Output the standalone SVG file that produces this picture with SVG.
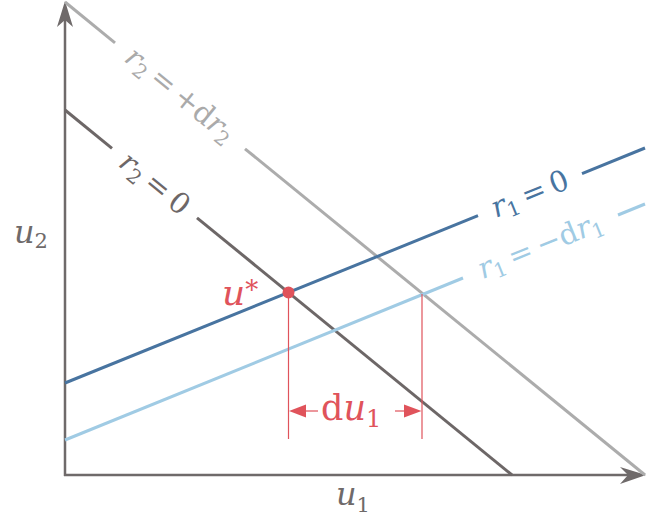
<svg xmlns="http://www.w3.org/2000/svg" width="647" height="526" viewBox="0 0 647 526" font-family="DejaVu Serif, Liberation Serif, serif">
<style>
.it{font-style:italic}
.axis{stroke:#6f6a6a;stroke-width:2.5;fill:none}
.ln{stroke-width:3;fill:none;stroke-linecap:butt}
.dark{stroke:#6d6767}
.gray{stroke:#acacac}
.blue{stroke:#4874a0}
.lblue{stroke:#a0cbe4}
.red{stroke:#e0535b;stroke-width:1.2;fill:none}
.lbl{font-size:29px}
.sub{font-size:20px}
</style>
<rect width="647" height="526" fill="#ffffff"/>
<g id="axes">
<line class="axis" x1="65" y1="476" x2="65" y2="14"/>
<line class="axis" x1="64" y1="475" x2="632" y2="475"/>
<path d="M65,1 L73,27 L65,20 L57,27 Z" fill="#6f6a6a"/>
<path d="M646,475 L620,467 L628,475 L620,484 Z" fill="#6f6a6a"/>
<text x="14" y="243" font-size="32" fill="#6f6a6a"><tspan class="it">u</tspan><tspan font-size="21" dy="5" dx="0">2</tspan></text>
<text x="336" y="505" font-size="32" fill="#6f6a6a"><tspan class="it">u</tspan><tspan font-size="21" dy="7" dx="0">1</tspan></text>
</g>
<g id="connectors">
<g id="r2-zero">
<line class="ln dark" x1="65" y1="110" x2="112" y2="148.4"/>
<line class="ln dark" x1="197" y1="217.8" x2="512" y2="475"/>
</g>
<g id="r2-plus">
<line class="ln gray" x1="65" y1="2" x2="115" y2="42.8"/>
<line class="ln gray" x1="245" y1="148.8" x2="645" y2="475"/>
</g>
<g id="r1-zero">
<line class="ln blue" x1="65" y1="383" x2="478" y2="215.7"/>
<line class="ln blue" x1="582" y1="173.6" x2="645" y2="148"/>
</g>
<g id="r1-minus">
<line class="ln lblue" x1="65" y1="440" x2="463" y2="278"/>
<line class="ln lblue" x1="618" y1="215" x2="645" y2="204"/>
</g>
<g id="du1-dimension">
<line class="red" x1="288.5" y1="293" x2="288.5" y2="439"/>
<line class="red" x1="422" y1="294" x2="422" y2="439"/>
<line class="red" x1="303" y1="411" x2="318" y2="411"/>
<line class="red" x1="395" y1="411" x2="405" y2="411"/>
<path d="M289,411 L306,404.5 L306,417.5 Z" fill="#e0535b"/>
<path d="M421.5,411 L404,404.5 L404,417.5 Z" fill="#e0535b"/>
</g>
</g>
<g id="label-r2-plus" transform="translate(180,95) rotate(39.2)">
<text class="lbl" x="0" y="9" text-anchor="middle" fill="#aaaaaa"><tspan class="it">r</tspan><tspan class="sub" dy="5" dx="0">2</tspan><tspan dy="-5" dx="6">=</tspan><tspan dx="6">+d</tspan><tspan class="it">r</tspan><tspan class="sub" dy="5" dx="0">2</tspan></text>
</g>
<g id="label-r2-zero" transform="translate(154.5,184) rotate(39.2)">
<text class="lbl" x="0" y="9" text-anchor="middle" fill="#6d6767"><tspan class="it">r</tspan><tspan class="sub" dy="5" dx="0">2</tspan><tspan dy="-5" dx="6">=</tspan><tspan dx="6">0</tspan></text>
</g>
<g id="label-r1-zero" transform="translate(530,194.5) rotate(-22.05)">
<text class="lbl" x="0" y="9" text-anchor="middle" fill="#4874a0"><tspan class="it">r</tspan><tspan class="sub" dy="5" dx="0">1</tspan><tspan dy="-5" dx="6">=</tspan><tspan dx="6">0</tspan></text>
</g>
<g id="label-r1-minus" transform="translate(540.5,246) rotate(-22.05)">
<text class="lbl" x="0" y="9" text-anchor="middle" fill="#a0cbe4"><tspan class="it">r</tspan><tspan class="sub" dy="5" dx="0">1</tspan><tspan dy="-5" dx="6">=</tspan><tspan dx="6">−d</tspan><tspan class="it">r</tspan><tspan class="sub" dy="5" dx="0">1</tspan></text>
</g>
<g id="node-ustar">
<circle cx="288.5" cy="292.5" r="6" fill="#e0535b"/>
<text x="222" y="305" font-size="36" fill="#e0535b"><tspan class="it">u</tspan><tspan font-size="26" dy="-6" dx="0">*</tspan></text>
</g>
<g id="label-du1">
<text x="321" y="420" font-size="35" fill="#e0535b">d<tspan class="it">u</tspan><tspan font-size="24" dy="7" dx="0">1</tspan></text>
</g>
</svg>
